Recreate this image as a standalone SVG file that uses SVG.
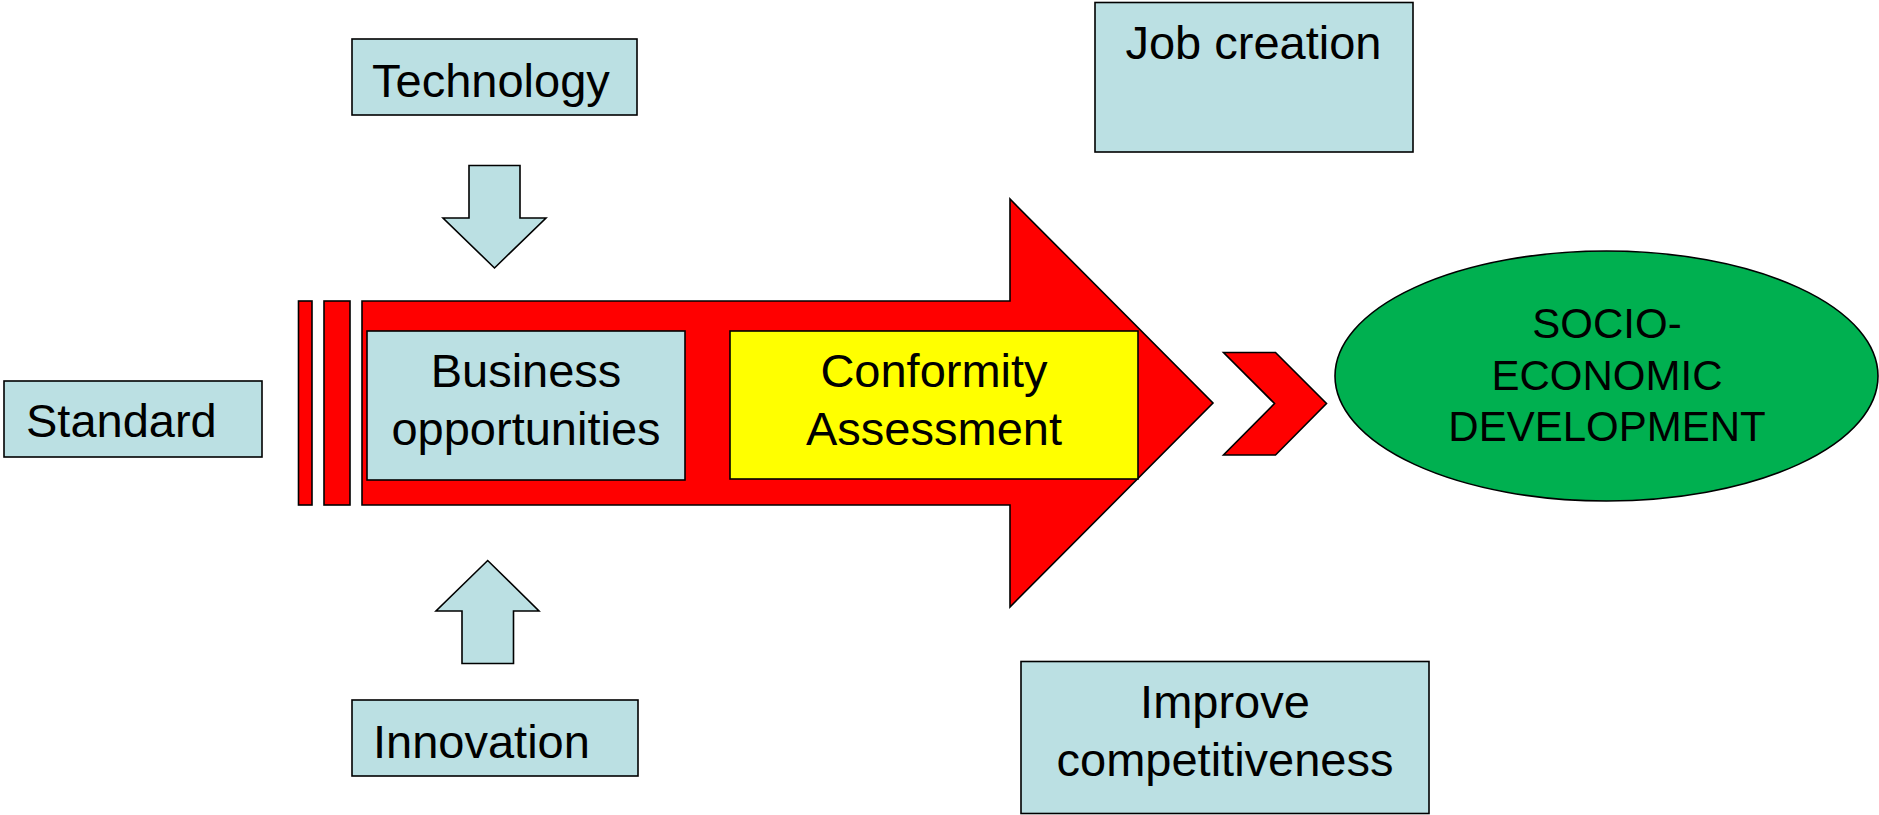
<svg xmlns="http://www.w3.org/2000/svg" width="1879" height="815" viewBox="0 0 1879 815">
<style>
.box{fill:#BBE0E3;stroke:#000;stroke-width:1.6}
.red{fill:#FF0000;stroke:#000;stroke-width:1.6;stroke-linejoin:miter}
.yel{fill:#FFFF00;stroke:#000;stroke-width:1.6}
.grn{fill:#00B050;stroke:#000;stroke-width:1.6}
.t{font-family:"Liberation Sans",Arial,sans-serif;font-size:47px;fill:#000}
.c{text-anchor:middle}
.s{font-family:"Liberation Sans",Arial,sans-serif;font-size:42px;fill:#000;text-anchor:middle}
</style>
<rect width="1879" height="815" fill="#fff"/>
<g id="main-arrow">
<rect class="red" x="298.5" y="301" width="13.5" height="204"/>
<rect class="red" x="324" y="301" width="26" height="204"/>
<polygon class="red" points="362,301 1010,301 1010,199 1213,403 1010,607 1010,505 362,505"/>
</g>
<g id="connectors">
<polygon class="box" points="469,165.5 520,165.5 520,218 546,218 494.5,268 443,218 469,218"/>
<polygon class="box" points="462,663.5 513.5,663.5 513.5,611 539,611 487.7,560.5 436,611 462,611"/>
<polygon class="red" points="1223.5,352.5 1275.5,352.5 1326.5,403.5 1275.5,455 1223.5,455 1274.5,403.5"/>
</g>
<g id="technology">
<rect class="box" x="352" y="39" width="285" height="76"/>
<text class="t" x="372" y="96.5">Technology</text>
</g>
<g id="standard">
<rect class="box" x="4" y="381" width="258" height="76"/>
<text class="t" x="26" y="437">Standard</text>
</g>
<g id="innovation">
<rect class="box" x="352" y="700" width="286" height="76"/>
<text class="t" x="373" y="757.5">Innovation</text>
</g>
<g id="business-opportunities">
<rect class="box" x="367" y="331" width="318" height="149"/>
<text class="t c" x="526" y="387">Business</text>
<text class="t c" x="526" y="445">opportunities</text>
</g>
<g id="conformity-assessment">
<rect class="yel" x="730" y="331" width="408" height="148"/>
<text class="t c" x="934" y="386.5">Conformity</text>
<text class="t c" x="934" y="445">Assessment</text>
</g>
<g id="job-creation">
<rect class="box" x="1095" y="2.5" width="318" height="149.5"/>
<text class="t c" x="1253.5" y="59">Job creation</text>
</g>
<g id="improve-competitiveness">
<rect class="box" x="1021" y="661.5" width="408" height="152"/>
<text class="t c" x="1225" y="718">Improve</text>
<text class="t c" x="1225" y="776">competitiveness</text>
</g>
<g id="socio-economic-development">
<ellipse class="grn" cx="1606.5" cy="376" rx="271.5" ry="125"/>
<text class="s" x="1607" y="338">SOCIO-</text>
<text class="s" x="1607" y="389.5">ECONOMIC</text>
<text class="s" x="1607" y="441">DEVELOPMENT</text>
</g>
</svg>
